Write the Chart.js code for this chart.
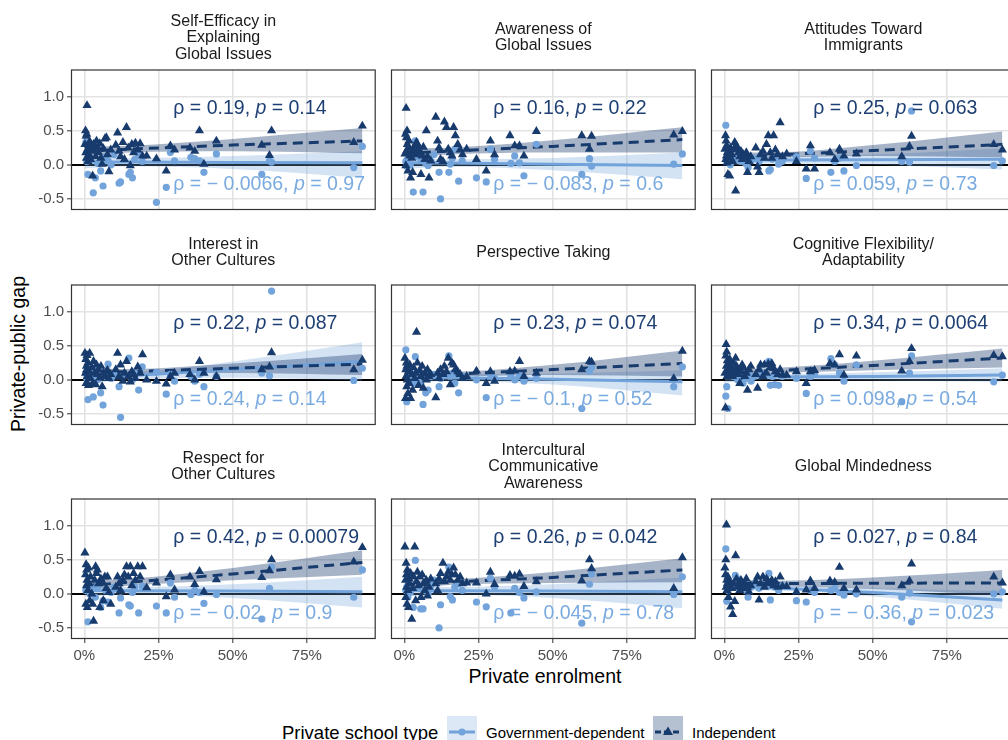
<!DOCTYPE html>
<html>
<head>
<meta charset="utf-8">
<script src="https://cdn.jsdelivr.net/npm/chart.js@4.4.1/dist/chart.umd.min.js"></script>
<style>
html, body { margin: 0; padding: 0; background: #fff; overflow: hidden; width: 1008px; height: 740px; }
body { position: relative; font-family: "Liberation Sans", Arial, sans-serif; }
canvas { position: absolute; }
.txt { position: absolute; white-space: nowrap; color: #000; }
.key { position: absolute; }
</style>
</head>
<body>
<div class="txt" style="left:18px;top:354px;font-size:19.5px;transform:translate(-50%,-50%) rotate(-90deg);">Private-public gap</div>
<div class="txt" style="left:545px;top:676px;font-size:19.5px;transform:translate(-50%,-50%);">Private enrolment</div>

<div class="txt" style="left:282px;top:721px;font-size:18.5px;line-height:24px;">Private school type</div>
<svg class="key" style="left:447px;top:716px" width="30" height="34">
  <rect width="30" height="34" fill="#dce8f5"/>
  <line x1="2" y1="16" x2="28" y2="16" stroke="#72a3da" stroke-width="3"/>
  <circle cx="15" cy="16" r="3.5" fill="#72a3da"/>
</svg>
<div class="txt" style="left:486px;top:723px;font-size:15px;line-height:20px;">Government-dependent</div>
<svg class="key" style="left:653px;top:716px" width="30" height="34">
  <rect width="30" height="34" fill="#b5c0d0"/>
  <line x1="2" y1="16" x2="28" y2="16" stroke="#183b6e" stroke-width="3" stroke-dasharray="6,3"/>
  <polygon points="15,10.5 20,19 10,19" fill="#183b6e"/>
</svg>
<div class="txt" style="left:692px;top:723px;font-size:15px;line-height:20px;">Independent</div>

<script>
// private enrolment share for each country (shared by all panels)
const xInd = [0.002,0.004,0.005,0.006,0.007,0.008,0.009,0.010,0.012,0.014,
  0.016,0.018,0.021,0.025,0.028,0.031,0.035,0.038,0.041,0.044,
  0.048,0.052,0.056,0.060,0.064,0.069,0.074,0.078,0.083,0.089,
  0.106,0.112,0.117,0.122,0.130,0.135,0.142,0.148,0.155,0.160,
  0.166,0.172,0.180,0.188,0.196,
  0.210,0.243,0.276,0.290,0.304,0.356,0.372,0.388,0.403,0.445,0.598,0.624,0.631,0.908,0.937];
const xGov = [0.005,0.008,0.012,0.020,0.030,0.037,0.045,0.055,0.063,0.072,
  0.080,0.090,0.100,0.117,0.122,0.150,0.155,0.162,0.170,0.183,0.195,
  0.243,0.276,0.290,0.304,0.359,0.372,0.388,0.403,0.445,0.598,0.624,0.631,0.908,0.937];

const xTicks = [0, 0.25, 0.5, 0.75];
const yTicks = [-0.5, 0, 0.5, 1.0];

const panelTitles = [
  ['Self-Efficacy in', 'Explaining', 'Global Issues'],
  ['Awareness of', 'Global Issues'],
  ['Attitudes Toward', 'Immigrants'],
  ['Interest in', 'Other Cultures'],
  ['Perspective Taking'],
  ['Cognitive Flexibility/', 'Adaptability'],
  ['Respect for', 'Other Cultures'],
  ['Intercultural', 'Communicative', 'Awareness'],
  ['Global Mindedness']
];

// gaps, independent schools
const indSelfEfficacy = [0.30,0.50,0.18,0.42,0.10,0.45,0.87,0.22,0.05,0.28,
  0.15,0.34,0.08,0.25,-0.16,0.30,0.20,0.12,0.35,0.26,
  0.18,0.31,0.10,0.01,0.24,0.38,0.40,0.15,-0.10,0.22,
  0.29,0.47,0.20,0.12,0.33,0.08,0.55,0.25,-0.01,0.30,
  0.18,0.32,0.22,0.31,0.13,
  0.13,0.09,-0.09,0.28,0.22,0.25,0.20,0.50,0.01,0.35,0.29,0.14,0.50,0.33,0.57];
const indAwareness = [0.16,0.45,-0.01,0.83,0.40,0.21,0.50,0.30,-0.09,0.25,
  0.35,0.13,-0.19,0.10,-0.11,0.22,0.28,0.15,0.33,0.30,
  0.23,0.18,-0.14,0.13,0.26,0.08,0.50,0.12,-0.19,0.06,
  0.70,0.35,0.25,0.08,0.05,0.63,0.55,0.23,0.18,0.13,
  0.55,0.43,0.30,0.22,0.15,
  0.23,0.08,-0.09,0.35,0.15,0.43,0.28,0.28,0.13,0.49,0.43,0.23,0.42,0.44,0.49];
const indImmigrants = [0.23,0.43,0.08,0.35,0.13,0.28,0.03,0.18,-0.14,0.20,
  0.10,-0.16,0.25,0.15,0.05,0.22,0.33,-0.38,0.28,0.23,
  0.18,0.12,0.20,0.08,0.15,0.10,0.18,-0.11,0.05,0.12,
  0.25,-0.03,-0.11,0.15,0.20,0.10,0.30,0.43,0.18,0.10,
  0.43,0.22,0.15,0.62,0.12,
  0.16,0.05,-0.06,0.28,-0.06,0.18,0.08,0.23,0.13,0.16,0.12,0.27,0.42,0.30,0.22];
const indInterest = [0.39,0.10,0.30,-0.05,0.20,0.15,0.36,0.05,0.25,-0.08,
  0.12,0.39,0.02,0.18,-0.05,0.27,0.10,-0.07,0.22,0.08,
  0.15,0.03,0.20,-0.10,0.10,0.05,0.12,0.14,0.02,0.08,
  0.15,0.39,0.05,0.22,-0.02,0.10,0.27,0.05,-0.03,0.12,
  0.08,0.02,0.19,0.10,0.37,
  0.00,-0.02,-0.06,0.05,0.10,0.08,0.00,0.27,0.10,0.05,0.15,0.19,0.40,0.15,0.29];
const indPerspective = [0.32,-0.27,0.15,0.05,0.25,-0.10,0.20,0.00,-0.20,0.12,
  -0.05,0.22,-0.27,0.08,-0.15,0.18,0.02,0.10,0.70,0.25,
  -0.08,0.14,0.05,0.20,-0.12,0.10,0.00,0.15,0.05,0.08,
  -0.26,0.10,0.02,0.15,0.08,0.20,0.12,0.32,-0.07,0.25,
  0.22,0.15,0.12,0.08,0.02,
  0.05,0.13,-0.05,0.12,-0.02,0.12,0.13,0.27,0.05,0.10,0.15,0.27,0.26,0.02,0.42];
const indCognitive = [0.10,-0.41,0.35,0.52,0.20,0.41,0.05,0.28,0.15,0.08,
  0.22,0.30,0.12,0.18,0.05,0.25,0.10,0.32,0.20,0.15,
  0.08,-0.05,0.12,0.22,0.18,0.05,0.10,-0.15,0.15,0.20,
  0.08,-0.12,0.15,0.22,0.05,0.22,0.10,0.23,0.18,0.24,
  0.17,0.12,0.08,0.15,0.07,
  0.07,0.12,-0.05,0.12,0.14,0.24,0.22,0.37,0.07,0.35,0.13,0.27,0.46,0.36,0.34];
const indRespect = [0.60,0.28,-0.15,0.43,0.12,0.35,0.20,-0.20,0.05,0.38,
  0.15,-0.10,0.25,0.00,-0.15,-0.40,0.20,0.40,0.30,0.35,
  0.15,-0.20,0.22,0.18,-0.10,0.25,0.08,0.25,0.02,-0.15,
  0.10,0.25,0.15,0.05,0.20,0.28,0.40,0.25,0.40,0.12,
  0.30,0.20,0.40,0.25,0.40,
  0.09,0.16,-0.04,0.28,0.06,0.25,0.14,0.33,0.03,0.21,0.24,0.34,0.50,0.47,0.68];
const indIntercultural = [0.69,0.20,-0.05,0.45,0.28,0.10,-0.15,0.35,0.05,-0.20,
  0.22,0.15,0.30,-0.37,0.08,0.25,0.69,-0.10,0.18,0.32,
  0.12,0.25,-0.05,0.28,0.15,0.05,0.20,-0.03,0.10,0.22,
  0.15,0.05,0.22,0.30,0.45,0.18,0.25,0.32,0.20,0.28,
  0.38,0.28,0.20,0.25,0.15,
  0.16,0.16,0.00,0.32,0.14,0.27,0.26,0.29,0.11,0.18,0.19,0.50,0.37,0.08,0.53];
const indGlobalMind = [0.38,0.28,0.50,0.10,1.01,0.20,0.05,0.15,0.25,-0.05,
  0.12,0.18,-0.19,0.08,-0.30,0.15,-0.11,0.56,0.22,0.10,
  0.15,0.05,0.20,0.12,0.08,0.15,0.22,0.10,0.03,0.12,
  0.18,0.25,-0.09,0.15,0.25,0.10,0.22,0.18,0.15,0.20,
  0.12,0.18,0.10,0.25,0.11,
  0.11,0.03,0.06,0.19,0.08,0.19,0.17,0.39,0.08,0.06,0.12,0.19,0.44,0.25,0.16];

// gaps, government-dependent schools
const govSelfEfficacy = [0.33,0.05,-0.14,0.10,-0.41,-0.19,0.02,-0.09,-0.31,0.12,
  0.06,0.00,0.15,-0.27,-0.25,-0.14,-0.11,-0.19,0.08,0.16,0.05,
  -0.55,-0.33,0.18,0.06,0.11,0.09,0.06,-0.11,0.16,-0.14,0.06,0.04,-0.04,0.27];
const govAwareness = [0.05,-0.02,0.10,0.00,-0.40,0.35,0.12,0.08,-0.40,0.02,
  -0.01,0.05,0.15,-0.11,-0.50,-0.11,0.01,0.10,0.23,-0.24,0.06,
  -0.19,-0.25,0.23,0.08,0.02,0.13,0.03,-0.16,0.30,-0.14,0.09,-0.02,0.01,0.16];
const govImmigrants = [0.58,0.05,0.15,0.00,0.10,0.08,0.12,0.05,0.10,0.02,
  -0.04,0.06,0.10,0.05,0.12,-0.09,-0.07,0.08,0.10,0.01,0.05,
  0.12,-0.20,0.20,0.10,-0.11,0.05,0.10,-0.09,-0.01,0.05,0.04,0.79,-0.01,0.06];
const govInterest = [0.10,0.02,-0.29,0.05,-0.25,0.15,0.00,-0.19,-0.37,0.05,
  0.23,0.02,0.08,-0.10,-0.55,0.32,0.05,0.00,0.10,-0.15,0.19,
  0.11,-0.21,0.08,-0.02,0.05,-0.02,0.08,-0.10,0.05,0.10,0.06,1.30,-0.01,0.17];
const govPerspective = [0.44,-0.32,0.05,0.10,-0.05,0.34,0.00,-0.05,-0.36,-0.19,
  -0.15,0.05,0.08,-0.10,0.02,0.35,0.05,0.10,-0.05,-0.19,0.06,
  0.00,-0.26,0.08,0.02,0.05,0.00,0.06,-0.02,0.02,-0.42,0.13,0.18,-0.10,0.19];
const govCognitive = [-0.24,-0.10,-0.42,0.10,0.05,0.15,0.00,0.08,-0.05,0.02,
  0.10,-0.02,0.05,0.08,0.12,0.27,-0.08,0.05,-0.07,-0.08,0.05,
  0.02,-0.20,0.05,0.08,0.31,0.22,0.10,-0.02,0.22,-0.32,0.10,0.35,-0.03,0.07];
const govRespect = [0.05,0.10,-0.41,0.00,0.08,-0.05,0.12,-0.20,-0.10,0.05,
  -0.12,0.02,0.10,-0.28,-0.06,-0.16,-0.18,0.02,0.10,-0.28,0.11,
  -0.18,-0.28,0.16,-0.05,-0.01,0.05,0.02,-0.14,-0.01,-0.37,0.08,0.39,-0.05,0.35];
const govIntercultural = [0.05,0.10,-0.05,0.02,-0.20,0.49,0.08,-0.22,-0.22,0.05,
  0.00,0.12,0.20,-0.50,-0.16,0.39,-0.04,-0.09,0.10,0.15,0.05,
  -0.12,-0.19,0.23,0.10,-0.28,0.08,0.02,-0.06,0.03,-0.43,0.14,0.29,-0.01,0.25];
const govGlobalMind = [0.66,-0.11,0.05,0.15,0.10,0.27,0.22,0.08,0.12,0.05,
  -0.05,0.10,0.15,0.08,0.12,0.30,-0.09,0.15,0.10,0.05,0.12,
  -0.10,-0.12,0.05,0.02,0.05,0.08,0.02,-0.02,0.00,-0.05,0.01,-0.41,0.00,0.03];

// linear fits and 95% bands read at these enrolment values
const xFit = [0.002, 0.15, 0.5, 0.937];
const indFitMid = [[0.20,0.23,0.29,0.35],[0.17,0.20,0.27,0.37],[0.12,0.14,0.21,0.30],
  [0.11,0.12,0.17,0.23],[0.06,0.08,0.15,0.24],[0.10,0.13,0.21,0.32],
  [0.12,0.17,0.29,0.46],[0.13,0.17,0.24,0.35],[0.15,0.15,0.155,0.16]];
const indFitLo = [[0.13,0.18,0.20,0.17],[0.10,0.15,0.18,0.18],[0.06,0.10,0.13,0.11],
  [0.05,0.08,0.10,0.07],[0.00,0.04,0.07,0.05],[0.05,0.09,0.14,0.18],
  [0.05,0.12,0.20,0.28],[0.07,0.13,0.16,0.17],[0.09,0.11,0.07,-0.02]];
const indFitHi = [[0.27,0.28,0.38,0.54],[0.24,0.25,0.36,0.55],[0.18,0.18,0.29,0.49],
  [0.17,0.16,0.24,0.38],[0.12,0.12,0.22,0.43],[0.15,0.17,0.28,0.46],
  [0.19,0.22,0.38,0.64],[0.19,0.21,0.32,0.52],[0.21,0.19,0.24,0.35]];
const govFitMid = [[0.04,0.04,0.035,0.03],[0.03,0.025,0.01,-0.01],[0.07,0.07,0.075,0.08],
  [0.03,0.06,0.15,0.27],[0.04,0.03,0.01,-0.03],[0.03,0.04,0.05,0.07],
  [0.05,0.045,0.04,0.03],[0.05,0.045,0.04,0.03],[0.11,0.09,0.02,-0.09]];
const govFitLo = [[-0.05,-0.02,-0.06,-0.19],[-0.06,-0.03,-0.08,-0.21],[-0.01,0.02,0.00,-0.07],
  [-0.06,0.00,0.03,-0.01],[-0.04,-0.02,-0.07,-0.23],[-0.04,0.00,-0.01,-0.03],
  [-0.04,-0.01,-0.06,-0.20],[-0.04,-0.01,-0.06,-0.21],[0.04,0.05,-0.04,-0.22]];
const govFitHi = [[0.13,0.10,0.13,0.20],[0.12,0.08,0.10,0.18],[0.15,0.12,0.15,0.24],
  [0.12,0.12,0.27,0.55],[0.12,0.08,0.09,0.14],[0.10,0.08,0.11,0.17],
  [0.14,0.10,0.14,0.25],[0.14,0.10,0.14,0.24],[0.18,0.13,0.08,0.04]];

// correlation labels
const indRho = ['0.19','0.16','0.25','0.22','0.23','0.34','0.42','0.26','0.027'];
const indP   = ['0.14','0.22','0.063','0.087','0.074','0.0064','0.00079','0.042','0.84'];
const govRho = ['\u2212 0.0066','\u2212 0.083','0.059','0.24','\u2212 0.1','0.098','\u2212 0.02','\u2212 0.045','\u2212 0.36'];
const govP   = ['0.97','0.6','0.73','0.14','0.52','0.54','0.9','0.78','0.023'];

const indSets = [indSelfEfficacy, indAwareness, indImmigrants, indInterest, indPerspective,
  indCognitive, indRespect, indIntercultural, indGlobalMind];
const govSets = [govSelfEfficacy, govAwareness, govImmigrants, govInterest, govPerspective,
  govCognitive, govRespect, govIntercultural, govGlobalMind];

const FONT = '"Liberation Sans", Arial, sans-serif';
Chart.defaults.font.family = FONT;
const navy = '#183b6e', light = '#72a3da';
const navyText = '#1d3f73', lightText = '#7aabe0';
const colLeft = [71, 391, 711];
const rowTop = [70, 285, 499];
const plotW = 309, plotH = 140, axisW = 40, titleH = 64, axisH = 30;

function pts(xs, ys) { return xs.map((x, i) => ({x: x, y: ys[i]})); }

function drawCorr(ctx, x, y, rho, p, color) {
  const reg = '19.5px ' + FONT, ita = 'italic 19.5px ' + FONT;
  const parts = [['\u03c1 = ' + rho + ', ', reg], ['p', ita], [' = ' + p, reg]];
  ctx.fillStyle = color;
  ctx.textBaseline = 'middle';
  ctx.textAlign = 'left';
  let cx = x;
  parts.forEach(([t, f]) => { ctx.font = f; ctx.fillText(t, cx, y); cx += ctx.measureText(t).width; });
}

for (let i = 0; i < 9; i++) {
  const col = i % 3, row = Math.floor(i / 3);
  const showY = col === 0, showX = row === 2;
  const cv = document.createElement('canvas');
  cv.width = axisW + plotW + 1;
  cv.height = titleH + plotH + axisH;
  cv.style.left = (colLeft[col] - axisW) + 'px';
  cv.style.top = (rowTop[row] - titleH) + 'px';
  document.body.appendChild(cv);
  const nLines = panelTitles[i].length;
  const extra = (3 - nLines) * 8.25;

  const deco = {
    id: 'deco' + i,
    afterDatasetsDraw(chart) {
      const {ctx, chartArea: a, scales: {x, y}} = chart;
      ctx.save();
      ctx.strokeStyle = '#333';
      ctx.lineWidth = 1.2;
      ctx.strokeRect(a.left + 0.5, a.top + 0.5, a.right - a.left - 1, a.bottom - a.top - 1);
      drawCorr(ctx, x.getPixelForValue(0.30), y.getPixelForValue(0.82), indRho[i], indP[i], navyText);
      drawCorr(ctx, x.getPixelForValue(0.30), y.getPixelForValue(-0.29), govRho[i], govP[i], lightText);
      ctx.restore();
    }
  };

  const band = (ys, color, fill, order) => ({
    data: pts(xFit, ys), showLine: true, pointRadius: 0, borderWidth: 0,
    borderColor: 'rgba(0,0,0,0)', backgroundColor: color, fill: fill,
    cubicInterpolationMode: 'monotone', order: order
  });

  new Chart(cv, {
    type: 'scatter',
    data: {
      datasets: [
        {data: pts(xInd, indSets[i]), pointStyle: 'triangle', pointRadius: 5.3,
          pointBackgroundColor: navy, pointBorderWidth: 0, order: 0},
        {data: pts(xGov, govSets[i]), pointStyle: 'circle', pointRadius: 3.6,
          pointBackgroundColor: light, pointBorderWidth: 0, order: 1},
        {data: pts(xFit, indFitMid[i]), showLine: true, pointRadius: 0, borderColor: navy,
          borderWidth: 3, borderDash: [10, 6], order: 2},
        {data: pts(xFit, govFitMid[i]), showLine: true, pointRadius: 0, borderColor: light,
          borderWidth: 3, order: 3},
        band(indFitLo[i], 'rgba(0,0,0,0)', false, 4),
        band(indFitHi[i], 'rgba(24,59,110,0.38)', '-1', 4),
        band(govFitLo[i], 'rgba(0,0,0,0)', false, 5),
        band(govFitHi[i], 'rgba(114,163,218,0.30)', '-1', 5)
      ]
    },
    options: {
      responsive: false,
      animation: false,
      devicePixelRatio: 1,
      layout: {padding: {top: 0, left: 0, right: 1, bottom: 0}},
      plugins: {
        legend: {display: false},
        tooltip: {enabled: false},
        title: {
          display: true, text: panelTitles[i], fullSize: false, color: '#1a1a1a',
          font: {size: 16, weight: 'normal', lineHeight: '16.5px'},
          padding: {top: 7 + extra, bottom: 7 + extra}
        }
      },
      scales: {
        x: {
          type: 'linear', min: -0.045, max: 0.982,
          afterBuildTicks: s => { s.ticks = xTicks.map(v => ({value: v})); },
          afterFit: s => { s.height = axisH; },
          ticks: {display: showX, color: '#4d4d4d', font: {size: 15}, padding: 4,
            callback: v => Math.round(v * 100) + '%'},
          grid: {color: '#e3e3e3', lineWidth: 1.6, drawTicks: showX, tickLength: 4,
            tickColor: '#333', tickWidth: 1},
          border: {display: false}
        },
        y: {
          type: 'linear', min: -0.662, max: 1.397,
          afterBuildTicks: s => { s.ticks = yTicks.map(v => ({value: v})); },
          afterFit: s => { s.width = axisW; },
          ticks: {display: showY, color: '#4d4d4d', font: {size: 15}, padding: 3,
            callback: v => v.toFixed(1)},
          grid: {
            color: c => (c.tick && c.tick.value === 0) ? '#000' : '#e3e3e3',
            lineWidth: c => (c.tick && c.tick.value === 0) ? 2 : 1.6,
            drawTicks: showY, tickLength: 4, tickColor: '#333', tickWidth: 1
          },
          border: {display: false}
        }
      }
    },
    plugins: [deco]
  });
}
</script>
</body>
</html>
